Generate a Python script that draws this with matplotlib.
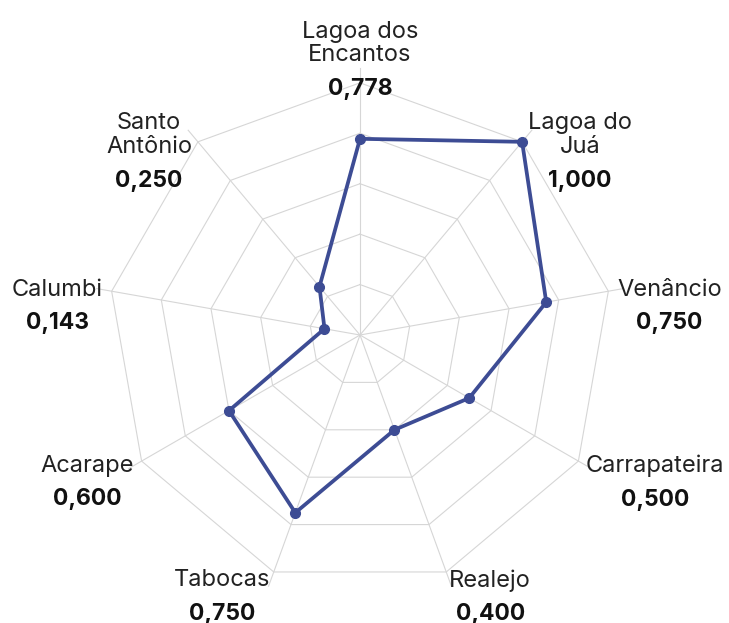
import matplotlib
matplotlib.use("Agg")
import matplotlib.pyplot as plt
import numpy as np

plt.rcParams['font.family'] = ['Inter', 'DejaVu Sans']

# Indicator per locality
names = ["Lagoa dos\nEncantos", "Lagoa do\nJuá", "Venâncio", "Carrapateira", "Realejo",
         "Tabocas", "Acarape", "Calumbi", "Santo\nAntônio"]
values = [0.778, 1.000, 0.750, 0.500, 0.400, 0.750, 0.600, 0.143, 0.250]
value_labels = ["0,778", "1,000", "0,750", "0,500", "0,400", "0,750", "0,600", "0,143", "0,250"]

line_color = "#3d4c94"
grid_color = "#d6d6d6"
n = len(names)
levels = 5

# angles measured clockwise from the top
theta = np.arange(n) * 2 * np.pi / n
sx, cy = np.sin(theta), np.cos(theta)

fig = plt.figure(figsize=(7.29, 6.23), dpi=100)
L = 1.15
ax = fig.add_axes([(360 - 290) / 729, (288 - 290) / 623, 580 / 729, 580 / 623])
ax.set_xlim(-L, L)
ax.set_ylim(-L, L)
ax.set_aspect('equal')
ax.axis('off')

# polygon rings and spokes
for k in range(1, levels + 1):
    r = k / levels
    ax.plot(np.append(sx, sx[0]) * r, np.append(cy, cy[0]) * r,
            color=grid_color, lw=0.8, zorder=1)
for i in range(n):
    ax.plot([0, sx[i] * 1.06], [0, cy[i] * 1.06], color=grid_color, lw=0.8, zorder=1)

# data polygon
v = np.array(values)
ax.plot(np.append(sx * v, sx[0] * v[0]), np.append(cy * v, cy[0] * v[0]),
        color=line_color, lw=2.7, zorder=3, solid_joinstyle='round')
ax.plot(sx * v, cy * v, 'o', color=line_color, ms=7, zorder=4)

# axis names with the value in bold underneath
for i in range(n):
    if abs(sx[i]) < 0.1:
        ha = 'center'
    elif sx[i] > 0:
        ha = 'left'
    else:
        ha = 'right'
    if cy[i] > 0.9:
        va, gap = 'bottom', 1.065
    else:
        va, gap = 'center', 1.035
    t = ax.text(sx[i] * gap, cy[i] * gap, names[i], ha=ha, va=va,
                multialignment='center', fontsize=17, color='#222222',
                linespacing=1.1)
    ax.annotate(value_labels[i], xy=(0.5, 0), xycoords=t, xytext=(0, -8.5),
                textcoords='offset points', ha='center', va='top',
                fontsize=16.5, fontweight='bold', color='#111111')

fig.savefig("out.png", dpi=100)
